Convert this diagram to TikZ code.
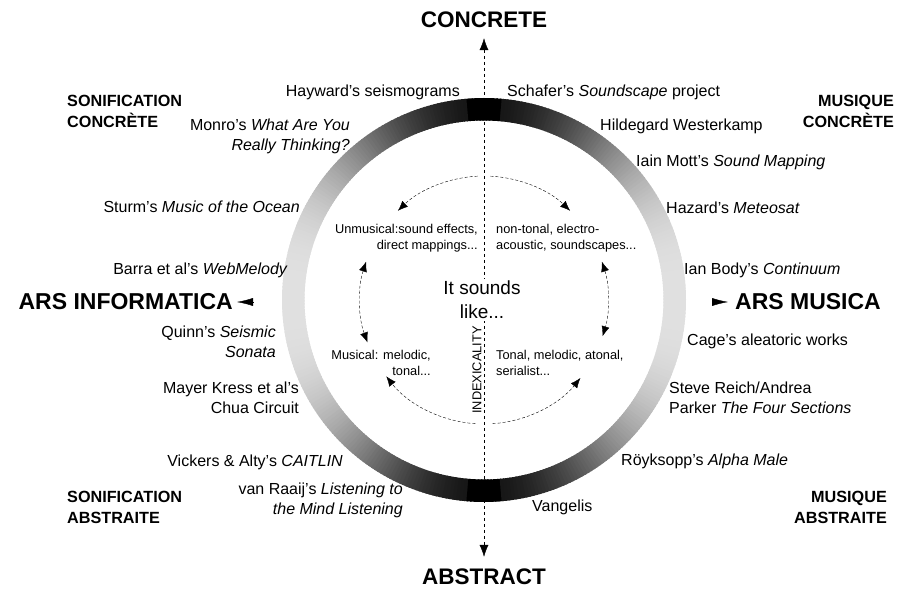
\documentclass[tikz,border=0pt]{standalone}
\usepackage{fontspec}
\setmainfont{Liberation Sans}
\usetikzlibrary{arrows.meta}

\begin{document}
\begin{tikzpicture}[x=1pt,y=1pt,>={Latex[length=10pt,width=8pt]},
    lab/.style={inner sep=0pt,font=\fontsize{16}{20}\selectfont},
    labl/.style={lab,anchor=east,align=right},
    labr/.style={lab,anchor=west,align=left},
    corner/.style={inner sep=0pt,font=\fontsize{16.2}{21}\selectfont\bfseries},
    pole/.style={inner sep=10pt,font=\fontsize{22.5}{27}\selectfont\bfseries},
    ars/.style={inner sep=0pt,font=\fontsize{23}{27}\selectfont\bfseries},
    inner/.style={inner sep=0pt,font=\fontsize{12.8}{16}\selectfont},
    swing/.style={thin,dash pattern=on 3pt off 2pt},
    tri/.style={-{Latex[length=16pt,width=8pt]}}]
        \useasboundingbox (0,0) rectangle (915,600);
        \coordinate (c) at (484,300);
        % shaded ring
        \foreach \a in {0,...,359}{
            \pgfmathsetmacro{\p}{ifthenelse(abs(sin(\a+0.5))>0.996,100,12+80*abs(sin(\a+0.5))^3)}
            \fill[black!\p,shift={(c)}] (\a:202) -- (\a+1.5:202) -- (\a+1.5:179.5) -- (\a:179.5) -- cycle;
        }
        % axes
        \node[pole] (concrete) at (484,580) {CONCRETE};
        \node[pole,inner sep=12pt] (abstract) at (484,23) {ABSTRACT};
        \draw[dashed,<->,>={Latex[length=12pt,width=9pt]}] (concrete) -- (abstract);
        \node[ars,anchor=east] (arsinf) at (233,298) {ARS INFORMATICA};
        \node[ars,anchor=west] (arsmus) at (735,298) {ARS MUSICA};
        \coordinate (ainf) at (253,298);
        \coordinate (amus) at (712,298);
        \draw[tri] (ainf) -- ([xshift=4pt]arsinf.east);
        \draw[tri] (amus) -- ([xshift=-7pt]arsmus.west);
        % corners
        \node[corner,anchor=west,align=left] (soncon) at (67,489) {SONIFICATION\\CONCRÈTE};
        \node[corner,anchor=east,align=right] (muscon) at (894,489) {MUSIQUE\\CONCRÈTE};
        \node[corner,anchor=west,align=left] (sonabs) at (67,93) {SONIFICATION\\ABSTRAITE};
        \node[corner,anchor=east,align=right] (musabs) at (887,93) {MUSIQUE\\ABSTRAITE};
        % works, left side
        \node[labl] (hayward) at (460,508) {Hayward's seismograms};
        \node[labl] (monro) at (350,464) {Monro's \textit{What Are You}\\\textit{Really Thinking?}};
        \node[labl] (sturm) at (300,393) {Sturm's \textit{Music of the Ocean}};
        \node[labl] (barra) at (288,330) {Barra et al's \textit{WebMelody}};
        \node[labl] (quinn) at (276,258) {Quinn's \textit{Seismic}\\\textit{Sonata}};
        \node[labl] (mayer) at (299,202) {Mayer Kress et al's\\Chua Circuit};
        \node[labl] (vickers) at (343,138) {Vickers \& Alty's \textit{CAITLIN}};
        \node[labl] (raaij) at (403,100) {van Raaij's \textit{Listening to}\\\textit{the Mind Listening}};
        % works, right side
        \node[labr] (schafer) at (507,508) {Schafer's \textit{Soundscape} project};
        \node[labr] (hildegard) at (600,474) {Hildegard Westerkamp};
        \node[labr] (mott) at (636,438) {Iain Mott's \textit{Sound Mapping}};
        \node[labr] (hazard) at (666,392) {Hazard's \textit{Meteosat}};
        \node[labr] (body) at (684,330) {Ian Body's \textit{Continuum}};
        \node[labr] (cage) at (687,259) {Cage's aleatoric works};
        \node[labr] (reich) at (669,202) {Steve Reich/Andrea\\Parker \textit{The Four Sections}};
        \node[labr] (royksopp) at (621,139) {Röyksopp's \textit{Alpha Male}};
        \node[labr] (vangelis) at (532,93) {Vangelis};
        % inside the ring
        \node[fill=white,inner sep=2pt,align=center,font=\fontsize{19}{24}\selectfont] (sounds) at (482,300) {It sounds\\like...};
        \node[inner,rotate=90] (index) at (477,230) {INDEXICALITY};
        \node[inner,anchor=east,align=right] (unmus) at (478,362) {Unmusical:sound effects,\\direct mappings...};
        \node[inner,anchor=west,align=left] (nontonal) at (496,362) {non-tonal, electro-\\acoustic, soundscapes...};
        \node[inner,anchor=east,align=right] (musical) at (431,237) {Musical: melodic,\\tonal...};
        \node[inner,anchor=west,align=left] (tonal) at (496,237) {Tonal, melodic, atonal,\\serialist...};
        \draw[swing,->] ([shift={(93:124)}]c) arc[start angle=93,end angle=134,radius=124pt];
        \draw[swing,->] ([shift={(87:124)}]c) arc[start angle=87,end angle=46,radius=124pt];
        \draw[swing,<->] ([shift={(162:124)}]c) arc[start angle=162,end angle=200,radius=124pt];
        \draw[swing,<->] ([shift={(18:124)}]c) arc[start angle=18,end angle=-17,radius=124pt];
        \draw[swing,->] ([shift={(266:124)}]c) arc[start angle=266,end angle=218,radius=124pt];
        \draw[swing,->] ([shift={(274:124)}]c) arc[start angle=274,end angle=321,radius=124pt];
    \end{tikzpicture}
\end{document}
